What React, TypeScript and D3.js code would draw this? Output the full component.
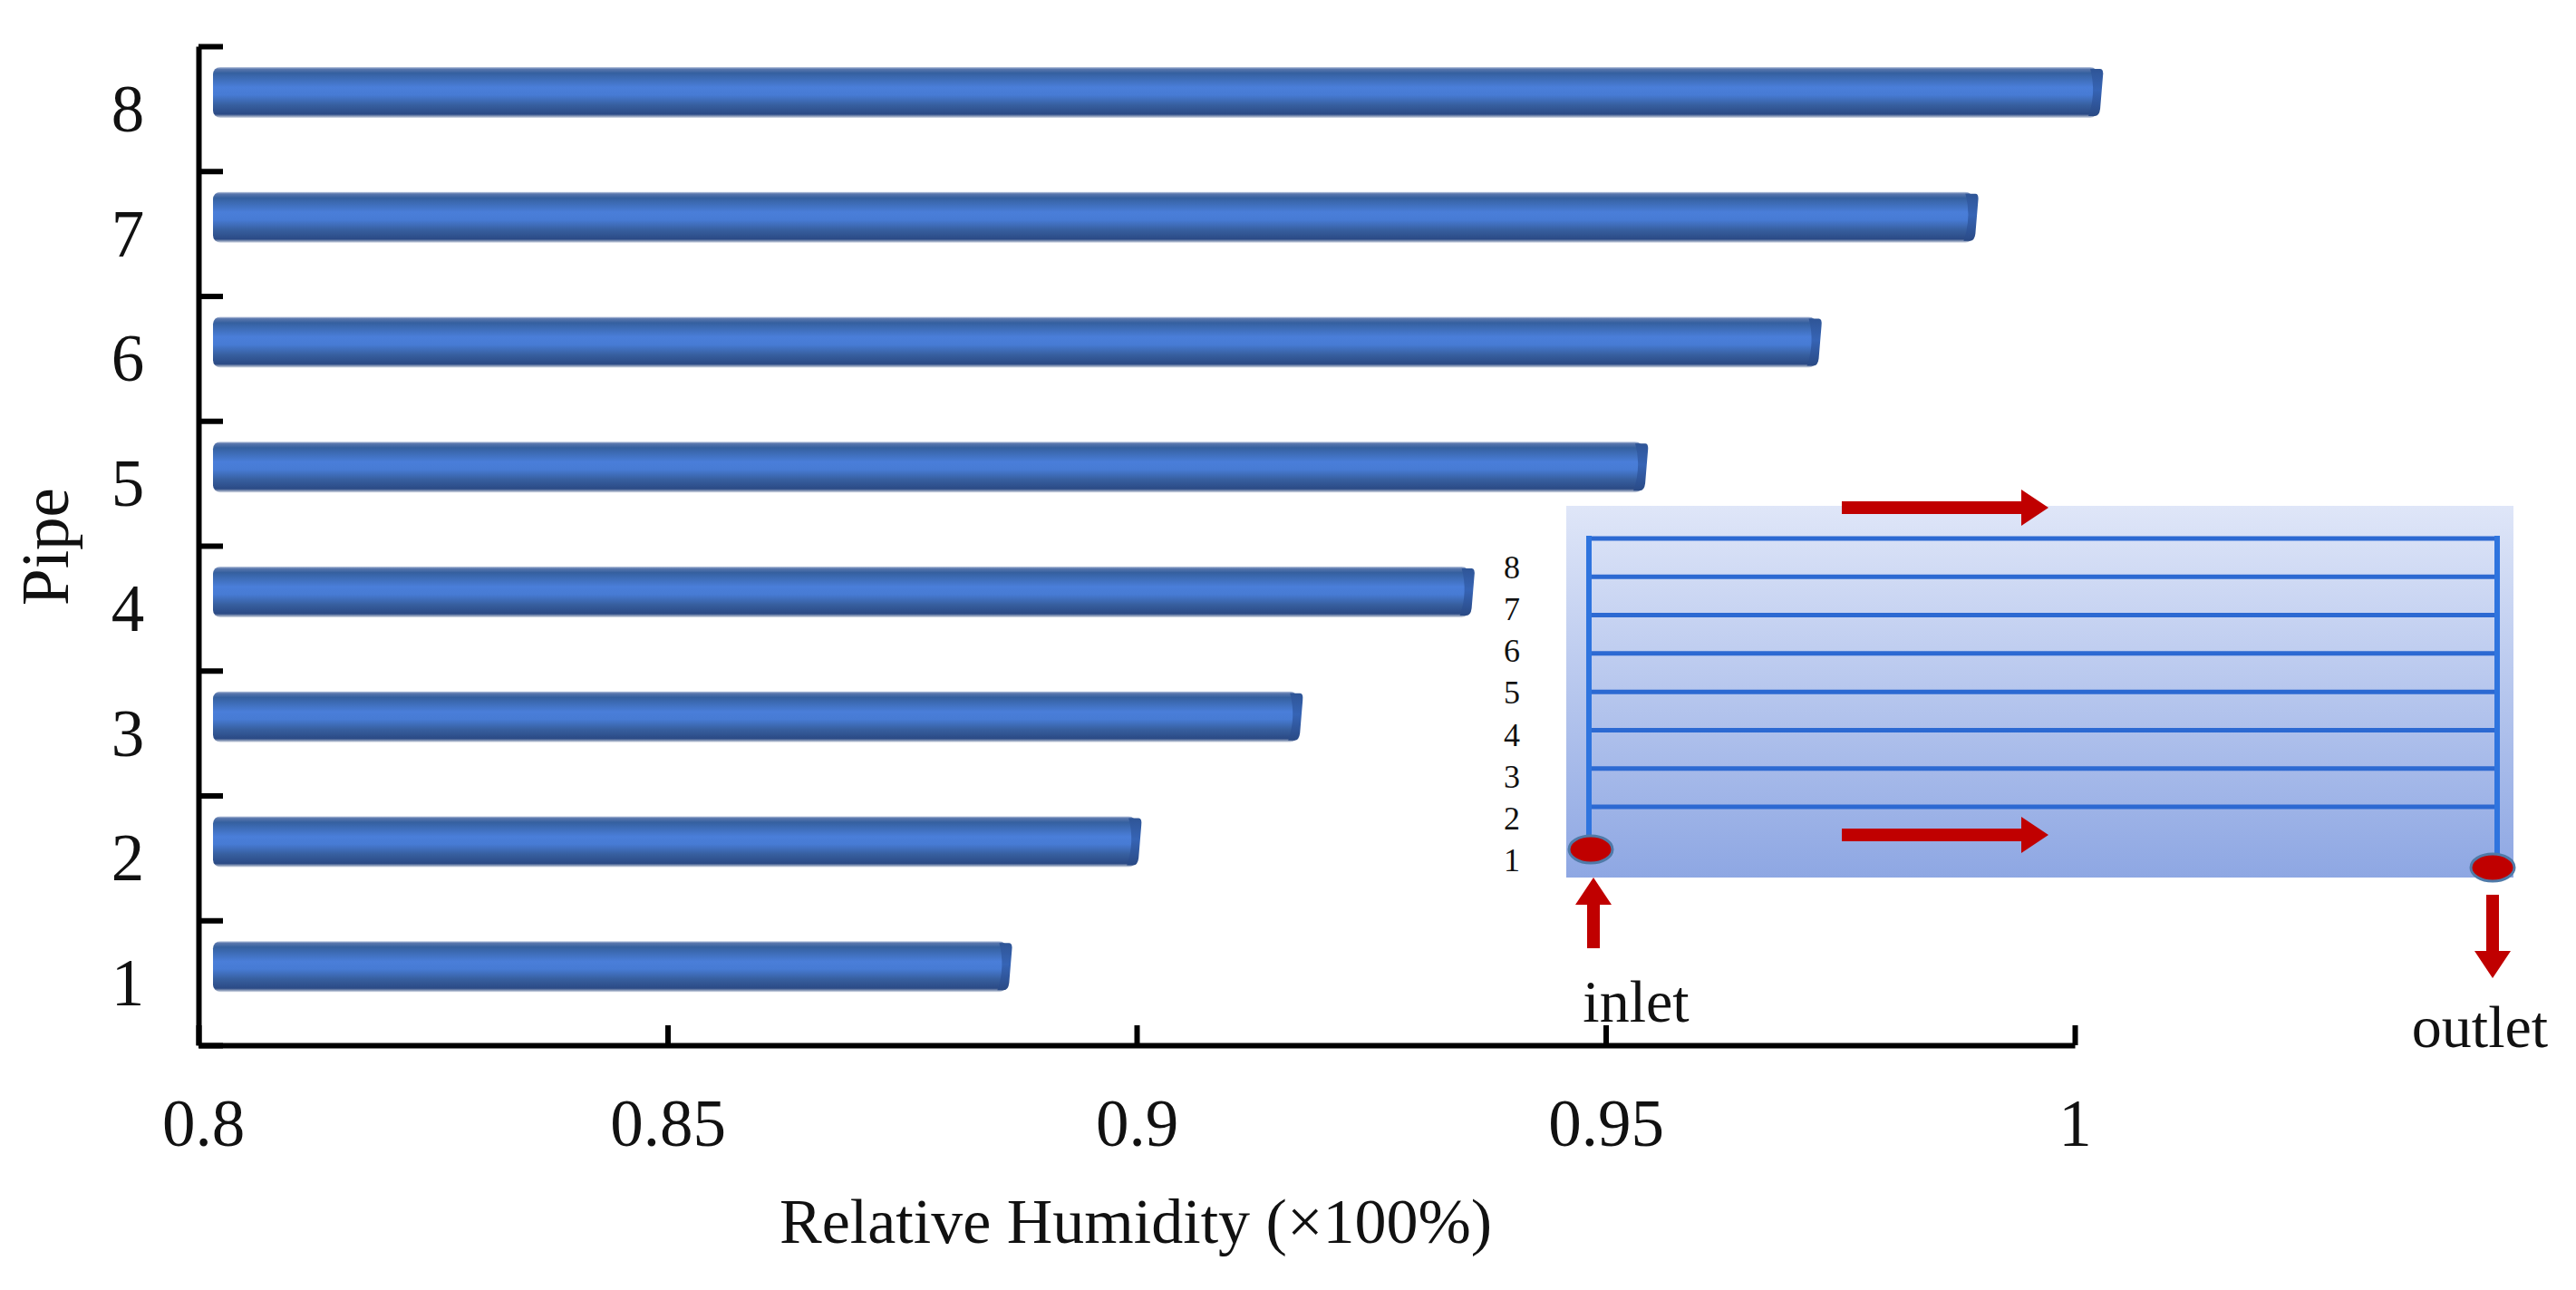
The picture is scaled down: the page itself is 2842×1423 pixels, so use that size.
// App.tsx
import React, { useRef, useEffect } from "react";
import * as d3 from "d3";

const pipes = [1, 2, 3, 4, 5, 6, 7, 8];
const humidity = [0.8867, 0.9005, 0.9177, 0.936, 0.9545, 0.973, 0.9897, 1.003];
const xTicks = [0.8, 0.85, 0.9, 0.95, 1];
const xTickLabels = ["0.8", "0.85", "0.9", "0.95", "1"];
const insetLinePipes = [8, 7, 6, 5, 4, 3, 2, 1];
const insetLabelPipes = [8, 7, 6, 5, 4, 3, 2, 1];

const WIDTH = 2842;
const HEIGHT = 1423;
const SERIF = "'Liberation Serif', 'Times New Roman', serif";

const App: React.FC = () => {
  const ref = useRef<SVGSVGElement | null>(null);

  useEffect(() => {
    const svg = d3.select(ref.current);
    svg.selectAll("*").remove();
    svg.attr("width", WIDTH).attr("height", HEIGHT);

    svg.append("rect").attr("width", WIDTH).attr("height", HEIGHT).attr("fill", "#fff");

    const x = d3.scaleLinear().domain([0.8, 1]).range([219, 2289]);
    const y = d3.scaleBand<number>().domain([...pipes].reverse()).range([51, 1153]);
    const yEdges = d3.scaleLinear().domain([0, 8]).range([1153, 51]);

    const defs = svg.append("defs");
    const barGrad = defs
      .append("linearGradient")
      .attr("id", "bar")
      .attr("x1", 0)
      .attr("y1", 0)
      .attr("x2", 0)
      .attr("y2", 1);
    [
      [0, "#c9d3e6"],
      [0.04, "#5a77ad"],
      [0.12, "#35609f"],
      [0.4, "#4a7ed9"],
      [0.55, "#477bd4"],
      [0.75, "#375f9f"],
      [0.93, "#2b4a85"],
      [0.97, "#8a9ab8"],
      [1, "#d5dbe6"],
    ].forEach(([o, c]) => barGrad.append("stop").attr("offset", o).attr("stop-color", c));

    const capGrad = defs
      .append("linearGradient")
      .attr("id", "cap")
      .attr("x1", 0)
      .attr("y1", 0)
      .attr("x2", 0)
      .attr("y2", 1);
    [
      [0, "#2f5596"],
      [0.45, "#3664b5"],
      [1, "#2a4a85"],
    ].forEach(([o, c]) => capGrad.append("stop").attr("offset", o).attr("stop-color", c));

    const insetGrad = defs
      .append("linearGradient")
      .attr("id", "inset")
      .attr("x1", 0)
      .attr("y1", 0)
      .attr("x2", 0)
      .attr("y2", 1);
    [
      [0, "#dfe6f8"],
      [1, "#8ea7e3"],
    ].forEach(([o, c]) => insetGrad.append("stop").attr("offset", o).attr("stop-color", c));

    // bars
    const barH = 56;
    const barShift = 18;
    const barLeft = x(0.8) + 16;
    const bars = svg.append("g");
    pipes.forEach((p, i) => {
      const cy = (y(p) as number) + y.bandwidth() / 2 - barShift;
      const right = x(humidity[i]);
      bars
        .append("rect")
        .attr("x", barLeft)
        .attr("y", cy - barH / 2)
        .attr("width", right - barLeft - 6)
        .attr("height", barH)
        .attr("rx", 8)
        .attr("fill", "url(#bar)");
      bars
        .append("path")
        .attr(
          "d",
          `M${right - 14},${cy - barH / 2 + 2} L${right - 3},${cy - barH / 2 + 2} Q${right + 1},${cy - barH / 2 + 2} ${right},${cy - barH / 2 + 10} L${right - 3},${cy + barH / 2 - 10} Q${right - 4},${cy + barH / 2 - 2} ${right - 9},${cy + barH / 2 - 2} L${right - 16},${cy + barH / 2 - 2} Q${right - 7},${cy} ${right - 14},${cy - barH / 2 + 2} Z`
        )
        .attr("fill", "url(#cap)");
    });

    // axes, ticks point inward
    const yAxis = svg
      .append("g")
      .attr("transform", `translate(${x(0.8)},0)`)
      .call(
        d3
          .axisLeft(yEdges)
          .tickValues(d3.range(0, 9))
          .tickSize(-27)
          .tickSizeOuter(0)
          .tickFormat(() => "")
      );
    const xAxis = svg
      .append("g")
      .attr("transform", `translate(0,${yEdges(0)})`)
      .call(
        d3
          .axisBottom(x)
          .tickValues(xTicks)
          .tickSize(-22)
          .tickSizeOuter(0)
          .tickFormat((_, i) => xTickLabels[i])
      );
    [yAxis, xAxis].forEach((g) => {
      g.selectAll("path").attr("stroke", "#000").attr("stroke-width", 6);
      g.selectAll("line").attr("stroke", "#000").attr("stroke-width", 6);
    });
    xAxis
      .selectAll("text")
      .attr("font-family", SERIF)
      .attr("font-size", 73)
      .attr("fill", "#111")
      .attr("y", 0)
      .attr("dy", 111);
    xAxis.selectAll("g.tick").filter((d) => d === 0.8).select("text").attr("dx", 5);

    svg
      .append("g")
      .selectAll("text")
      .data(pipes)
      .enter()
      .append("text")
      .attr("x", 141)
      .attr("y", (d) => (y(d) as number) + y.bandwidth() / 2 + 25)
      .attr("text-anchor", "middle")
      .attr("font-family", SERIF)
      .attr("font-size", 73)
      .attr("fill", "#111")
      .text((d) => d);

    svg
      .append("text")
      .attr("transform", "translate(75,603) rotate(-90)")
      .attr("text-anchor", "middle")
      .attr("font-family", SERIF)
      .attr("font-size", 73)
      .attr("fill", "#111")
      .text("Pipe");

    svg
      .append("text")
      .attr("x", 1253)
      .attr("y", 1371)
      .attr("text-anchor", "middle")
      .attr("font-family", SERIF)
      .attr("font-size", 70)
      .attr("fill", "#111")
      .text("Relative Humidity (×100%)");

    // inset: pipe layout
    const inset = svg.append("g");
    inset
      .append("rect")
      .attr("x", 1728)
      .attr("y", 558)
      .attr("width", 1045)
      .attr("height", 410)
      .attr("fill", "url(#inset)");

    const insetY = d3.scaleLinear().domain([8, 1]).range([594, 890]);
    const insetLabelY = d3.scaleLinear().domain([8, 1]).range([625, 948]);
    const insetLeft = 1753;
    const insetRight = 2755;

    inset
      .selectAll("line.pipe")
      .data(insetLinePipes)
      .enter()
      .append("line")
      .attr("class", "pipe")
      .attr("x1", insetLeft)
      .attr("x2", insetRight)
      .attr("y1", (d) => insetY(d))
      .attr("y2", (d) => insetY(d))
      .attr("stroke", "#2c69d2")
      .attr("stroke-width", 5);

    inset
      .append("line")
      .attr("x1", insetLeft)
      .attr("x2", insetLeft)
      .attr("y1", insetY(8) - 3)
      .attr("y2", 937)
      .attr("stroke", "#2f74de")
      .attr("stroke-width", 6);
    inset
      .append("line")
      .attr("x1", insetRight)
      .attr("x2", insetRight)
      .attr("y1", insetY(8) - 3)
      .attr("y2", 957)
      .attr("stroke", "#2f74de")
      .attr("stroke-width", 6);

    inset
      .selectAll("text.num")
      .data(insetLabelPipes)
      .enter()
      .append("text")
      .attr("class", "num")
      .attr("x", 1668)
      .attr("y", (d) => insetLabelY(d) + 13)
      .attr("text-anchor", "middle")
      .attr("font-family", SERIF)
      .attr("font-size", 36)
      .attr("fill", "#111")
      .text((d) => d);

    const ports = [
      { cx: 1755, cy: 937 },
      { cx: 2750, cy: 957 },
    ];
    inset
      .selectAll("ellipse")
      .data(ports)
      .enter()
      .append("ellipse")
      .attr("cx", (d) => d.cx)
      .attr("cy", (d) => d.cy)
      .attr("rx", 24)
      .attr("ry", 15)
      .attr("fill", "#c00000")
      .attr("stroke", "#4f7aa8")
      .attr("stroke-width", 3);

    // red flow arrows: tail x/y to tip x/y
    const arrows = [
      { x1: 2032, y1: 560, x2: 2260, y2: 560 },
      { x1: 2032, y1: 921, x2: 2260, y2: 921 },
      { x1: 1758, y1: 1046, x2: 1758, y2: 968 },
      { x1: 2750, y1: 987, x2: 2750, y2: 1079 },
    ];
    const redArrow = (a: (typeof arrows)[number]) => {
      const ang = Math.atan2(a.y2 - a.y1, a.x2 - a.x1);
      const len = Math.hypot(a.x2 - a.x1, a.y2 - a.y1);
      const head = 30;
      const t = d3.path();
      t.rect(0, -7, len - head, 14);
      t.moveTo(len - head, -20);
      t.lineTo(len, 0);
      t.lineTo(len - head, 20);
      t.closePath();
      inset
        .append("path")
        .attr("transform", `translate(${a.x1},${a.y1}) rotate(${(ang * 180) / Math.PI})`)
        .attr("d", t.toString())
        .attr("fill", "#c00000");
    };
    arrows.forEach(redArrow);

    inset
      .append("text")
      .attr("x", 1805)
      .attr("y", 1127)
      .attr("text-anchor", "middle")
      .attr("font-family", SERIF)
      .attr("font-size", 66)
      .attr("fill", "#111")
      .text("inlet");
    inset
      .append("text")
      .attr("x", 2736)
      .attr("y", 1155)
      .attr("text-anchor", "middle")
      .attr("font-family", SERIF)
      .attr("font-size", 66)
      .attr("fill", "#111")
      .text("outlet");
  }, []);

  return <svg ref={ref} style={{ position: "absolute", left: 0, top: 0, display: "block" }}></svg>;
};

export default App;
